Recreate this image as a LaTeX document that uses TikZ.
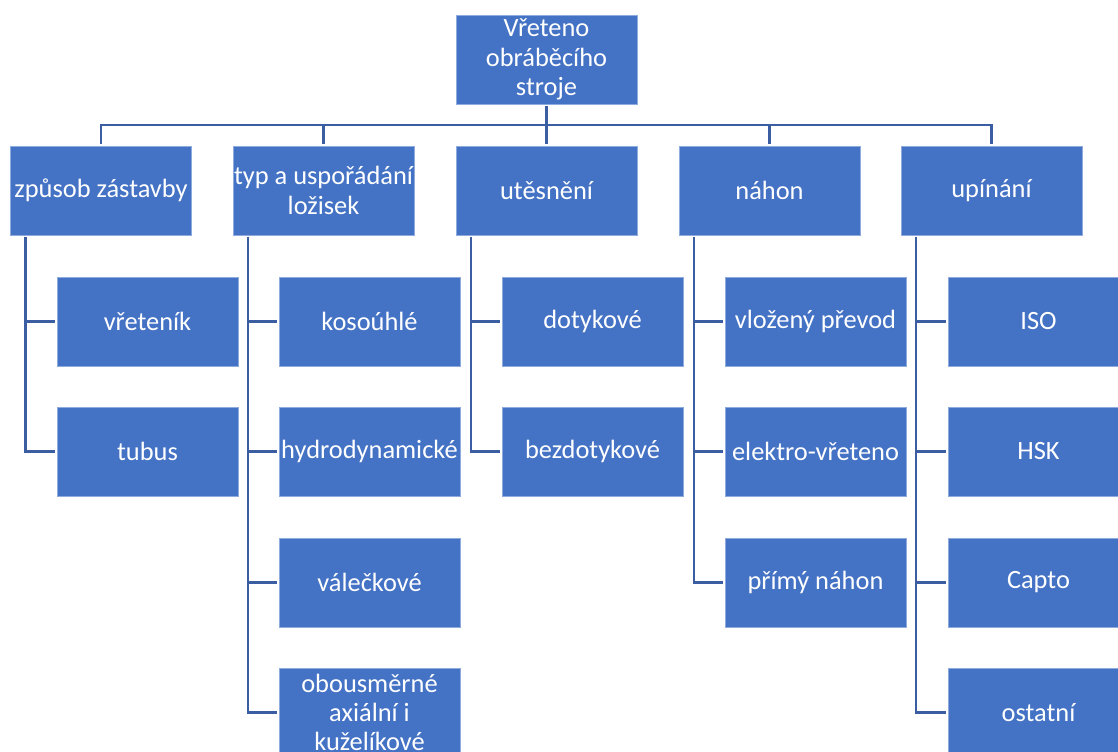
\documentclass[tikz,border=0pt]{standalone}
\usepackage{fontspec}
\setmainfont{Carlito}
\usetikzlibrary{calc}
\definecolor{boxblue}{RGB}{68,114,196}
\definecolor{boxedge}{RGB}{143,170,220}
\definecolor{linkblue}{RGB}{59,94,163}
\tikzset{
  box/.style={rectangle, fill=boxblue, draw=boxedge, line width=0.6pt,
    minimum width=181*0.75pt, minimum height=89*0.75pt, inner sep=0pt, outer sep=1.5pt,
    text=white, align=center, font=\fontsize{19.8}{22}\selectfont},
  link/.style={draw=linkblue, line width=2.2pt}
}
\begin{document}
\begin{tikzpicture}[x=0.75pt,y=-0.75pt]
\useasboundingbox (0,0) rectangle (1118,752);
% top
\node[box] (top) at (546.5,59.5) {Vřeteno\\obráběcího\\stroje};
% level 1
\node[box] (a) at (101,190.5) {způsob zástavby};
\node[box] (b) at (323.5,190.5) {typ a uspořádání\\ložisek};
\node[box] (c) at (546.5,190.5) {utěsnění};
\node[box] (d) at (769.5,190.5) {náhon};
\node[box] (e) at (991.5,190.5) {upínání};
% children
\node[box] (a1) at (147.5,321.5) {vřeteník};
\node[box] (a2) at (147.5,451.5) {tubus};
\node[box] (b1) at (369.5,321.5) {kosoúhlé};
\node[box] (b2) at (369.5,451.5) {hydrodynamické};
\node[box] (b3) at (369.5,582.5) {válečkové};
\node[box] (b4) at (369.5,712.5) {obousměrné\\axiální i\\kuželíkové};
\node[box] (c1) at (592.5,321.5) {dotykové};
\node[box] (c2) at (592.5,451.5) {bezdotykové};
\node[box] (d1) at (815.5,321.5) {vložený převod};
\node[box] (d2) at (815.5,451.5) {elektro-vřeteno};
\node[box] (d3) at (815.5,582.5) {přímý náhon};
\node[box] (e1) at (1038.5,321.5) {ISO};
\node[box] (e2) at (1038.5,451.5) {HSK};
\node[box] (e3) at (1038.5,582.5) {Capto};
\node[box] (e4) at (1038.5,712.5) {ostatní};
% bus
\coordinate (bus) at (546.5,125);
\draw[link] (top.south) -- (bus);
\foreach \n in {a,b,c,d,e}{
  \draw[link] (\n.north) |- (bus);
}
% spines
\foreach \p/\kids in {a/{a1,a2}, b/{b1,b2,b3,b4}, c/{c1,c2}, d/{d1,d2,d3}, e/{e1,e2,e3,e4}}{
  \foreach \k in \kids {
    \draw[link] ($(\p.south west)+(17,0)$) |- (\k.west);
  }
}
\end{tikzpicture}
\end{document}
